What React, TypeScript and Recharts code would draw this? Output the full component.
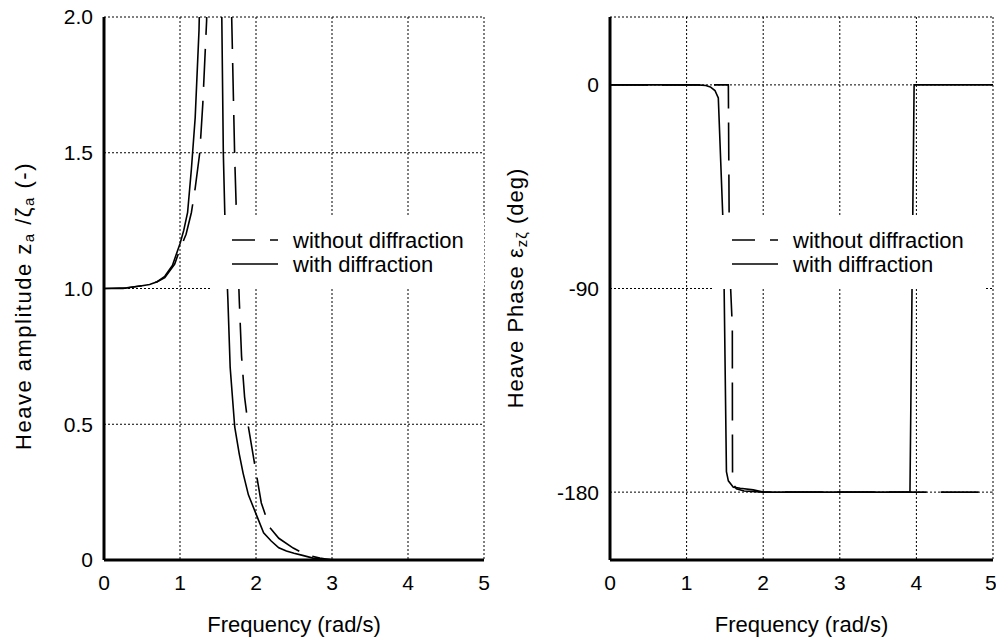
import { LineChart, Line, XAxis, YAxis, CartesianGrid, Legend } from "recharts";

// heave amplitude, with diffraction
const ampFreqWith = [0, 0.25, 0.5, 0.6, 0.7, 0.8, 0.9, 1.0, 1.05, 1.1, 1.15, 1.2, 1.25, 1.3, 1.35, 1.4, 1.45, 1.5, 1.55, 1.57, 1.59, 1.61, 1.63, 1.66, 1.72, 1.78, 1.83, 1.9, 2.0, 2.1, 2.2, 2.3, 2.4, 2.5, 2.6, 2.75, 2.9, 3.1, 4.0, 5.0];
const ampWith = [1.0, 1.0, 1.01, 1.015, 1.025, 1.045, 1.085, 1.165, 1.215, 1.28, 1.44, 1.63, 1.95, 2.6, 3.6, 4.4, 3.8, 2.7, 2.0, 1.5, 1.27, 1.1, 0.96, 0.71, 0.49, 0.39, 0.32, 0.24, 0.17, 0.1, 0.07, 0.045, 0.033, 0.025, 0.018, 0.007, 0.003, 0.0, 0.0, 0.0];

// heave amplitude, without diffraction
const ampFreqWithout = [0, 0.3, 0.5, 0.6, 0.7, 0.8, 0.93, 1.0, 1.08, 1.15, 1.2, 1.26, 1.3, 1.35, 1.4, 1.45, 1.5, 1.55, 1.6, 1.65, 1.68, 1.72, 1.745, 1.78, 1.81, 1.85, 1.9, 1.99, 2.07, 2.18, 2.3, 2.49, 2.65, 2.84, 3.0, 4.0, 5.0];
const ampWithout = [1.0, 1.003, 1.01, 1.015, 1.025, 1.04, 1.09, 1.145, 1.2, 1.28, 1.37, 1.5, 1.68, 1.985, 2.6, 3.5, 5.0, 6.0, 4.5, 2.8, 2.0, 1.48, 1.25, 0.956, 0.75, 0.6, 0.49, 0.34, 0.21, 0.12, 0.08, 0.044, 0.02, 0.007, 0.0, 0.0, 0.0];

// heave phase, with diffraction
const phaseFreqWith = [0, 1.15, 1.25, 1.31, 1.37, 1.414, 1.471, 1.49, 1.52, 1.545, 1.61, 1.7, 1.87, 2.0, 3.0, 3.916, 3.97, 4.5, 5.0];
const phaseWith = [0, 0, -0.3, -0.9, -2.5, -5.8, -56.7, -90, -171, -175, -177.8, -178.3, -179, -180, -180, -180, 0, 0, 0];

// heave phase, without diffraction
const phaseFreqWithout = [0, 1.545, 1.555, 1.575, 1.597, 1.598, 1.6, 1.65, 1.75, 2.0, 3.0, 4.0, 5.0];
const phaseWithout = [0, 0, -56, -90, -107, -150, -176, -178.5, -179.5, -180, -180, -180, -180];

const freqTicks = [0, 1, 2, 3, 4, 5];
const ampTicks = [0, 0.5, 1.0, 1.5, 2.0];
const phaseTicks = [-180, -90, 0];

const toPoints = (fs: number[], vs: number[]) => fs.map((f, i) => ({ f, v: vs[i] }));

const FONT = "'Liberation Sans', Arial, sans-serif";
const DASH = "38 14";
const frame = { stroke: "#000", strokeWidth: 3 };

const LegendBox = () => (
  <div style={{ background: "#fff", width: 272, height: 74 }}>
    <svg width={272} height={74} style={{ display: "block" }}>
      <line x1={20} x2={66} y1={25} y2={25} stroke="#000" strokeWidth={1.6} strokeDasharray="23 15 8 30" />
      <line x1={20} x2={66} y1={49} y2={49} stroke="#000" strokeWidth={1.6} />
      <text x={81} y={25} dominantBaseline="central" fontSize={22} fontFamily={FONT} fill="#000">
        without diffraction
      </text>
      <text x={81} y={49} dominantBaseline="central" fontSize={22} fontFamily={FONT} fill="#000">
        with diffraction
      </text>
    </svg>
  </div>
);

const AmpLabel = () => (
  <text transform="rotate(-90, 23, 306)" x={23} y={306} textAnchor="middle" dominantBaseline="central" fontSize={22} letterSpacing={1.5} fontFamily={FONT} fill="#000">
    Heave amplitude z
    <tspan fontSize={15} dy={5}>a</tspan>
    <tspan dy={-5}> /ζ</tspan>
    <tspan fontSize={15} dy={5}>a</tspan>
    <tspan dy={-5}>  (-)</tspan>
  </text>
);

const PhaseLabel = () => (
  <text transform="rotate(-90, 15, 288)" x={15} y={288} textAnchor="middle" dominantBaseline="central" fontSize={22} letterSpacing={1} fontFamily={FONT} fill="#000">
    Heave Phase ε
    <tspan fontSize={15} dy={6}>zζ</tspan>
    <tspan dy={-6}>  (deg)</tspan>
  </text>
);

const tickStyle = { fill: "#000", fontSize: 21, fontFamily: FONT };
const xLabel = { value: "Frequency (rad/s)", position: "insideBottom" as const, offset: 7, fill: "#000", fontSize: 22, fontFamily: FONT };

export default function App() {
  return (
    <div style={{ position: "absolute", left: 0, top: 0, width: 996, height: 639, background: "#fff", fontFamily: FONT }}>
      <div style={{ position: "absolute", left: 0, top: 0 }}>
        <LineChart width={500} height={639} margin={{ top: 17, right: 16, bottom: 0, left: 0 }}>
          <CartesianGrid stroke="#000" strokeDasharray="2 2" />
          <XAxis dataKey="f" type="number" domain={[0, 5]} ticks={freqTicks} height={79} tickLine={false} axisLine={frame} tickMargin={9} tick={tickStyle} label={xLabel} />
          <XAxis xAxisId="top" orientation="top" type="number" domain={[0, 5]} height={0} tick={false} tickLine={false} axisLine={frame} />
          <YAxis type="number" domain={[0, 2]} allowDataOverflow ticks={ampTicks} width={104} tickLine={false} axisLine={frame} tickMargin={5} tick={tickStyle} tickFormatter={(v: number) => (v === 0 ? "0" : v.toFixed(1))} label={AmpLabel} />
          <YAxis yAxisId="right" orientation="right" type="number" domain={[0, 2]} width={0} tick={false} tickLine={false} axisLine={frame} />
          <Line data={toPoints(ampFreqWithout, ampWithout)} dataKey="v" type="linear" dot={false} stroke="#000" strokeWidth={1.6} strokeDasharray={DASH} isAnimationActive={false} />
          <Line data={toPoints(ampFreqWith, ampWith)} dataKey="v" type="linear" dot={false} stroke="#000" strokeWidth={1.6} isAnimationActive={false} />
          <Legend layout="vertical" align="center" verticalAlign="middle" content={LegendBox} wrapperStyle={{ left: 212, top: 215, width: 272, height: 74 }} />
        </LineChart>
      </div>
      <div style={{ position: "absolute", left: 500, top: 0 }}>
        <LineChart width={496} height={639} margin={{ top: 17, right: 3, bottom: 0, left: 0 }}>
          <CartesianGrid stroke="#000" strokeDasharray="2 2" />
          <XAxis dataKey="f" type="number" domain={[0, 5]} ticks={freqTicks} height={79} tickLine={false} axisLine={frame} tickMargin={9} tick={tickStyle} label={xLabel} />
          <XAxis xAxisId="top" orientation="top" type="number" domain={[0, 5]} height={0} tick={false} tickLine={false} axisLine={frame} />
          <YAxis type="number" domain={[-210, 30]} ticks={phaseTicks} width={110} tickLine={false} axisLine={frame} tickMargin={5} tick={tickStyle} label={PhaseLabel} />
          <YAxis yAxisId="right" orientation="right" type="number" domain={[-210, 30]} width={0} tick={false} tickLine={false} axisLine={frame} />
          <Line data={toPoints(phaseFreqWithout, phaseWithout)} dataKey="v" type="linear" dot={false} stroke="#000" strokeWidth={1.6} strokeDasharray={DASH} isAnimationActive={false} />
          <Line data={toPoints(phaseFreqWith, phaseWith)} dataKey="v" type="linear" dot={false} stroke="#000" strokeWidth={1.6} isAnimationActive={false} />
          <Legend layout="vertical" align="center" verticalAlign="middle" content={LegendBox} wrapperStyle={{ left: 212, top: 215, width: 272, height: 74 }} />
        </LineChart>
      </div>
    </div>
  );
}
